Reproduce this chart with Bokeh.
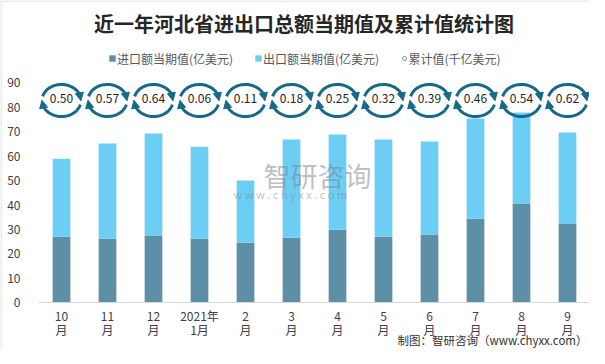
import numpy as np
from bokeh.plotting import figure
from bokeh.models import (Range1d, FixedTicker, Label, Legend, LegendItem, Arrow,
                          NormalHead, ColumnDataSource, Span)
from bokeh.core.properties import value
from bokeh.embed import file_html
from bokeh.resources import INLINE

# ---------------- data ----------------
months = ["10\n月", "11\n月", "12\n月", "2021年\n1月", "2\n月", "3\n月", "4\n月",
          "5\n月", "6\n月", "7\n月", "8\n月", "9\n月"]
imports = [27.0, 26.2, 27.5, 26.2, 24.6, 26.6, 29.9, 27.0, 27.9, 34.4, 40.6, 32.4]
exports = [31.9, 39.0, 41.8, 37.7, 25.4, 40.2, 39.0, 39.8, 38.1, 41.0, 37.3, 37.3]
cumulative = [0.50, 0.57, 0.64, 0.06, 0.11, 0.18, 0.25, 0.32, 0.39, 0.46, 0.54, 0.62]
y_ticks = [0, 10, 20, 30, 40, 50, 60, 70, 80, 90]

title_text = "近一年河北省进出口总额当期值及累计值统计图"
s_import = "进口额当期值(亿美元)"
s_export = "出口额当期值(亿美元)"
s_cum = "累计值(千亿美元)"
footer = "制图：智研咨询（www.chyxx.com）"

FONT = "Noto Sans CJK SC"
C_IMP = "#5D8FA6"
C_EXP = "#6CCEF4"
C_ARC = "#17698A"

# ---------------- layout (frame = whole canvas, axes at fixed locations) ----------------
W, H = 589, 348
PXC = 46.0          # pixels per category
PXV = 2.444         # pixels per value unit
X0 = 38.0           # pixel of x = -0.5
Y0 = 302.3          # pixel of y = 0


def dx(px):
    return (px - X0) / PXC - 0.5


def dy(py):
    return (Y0 - py) / PXV


p = figure(width=W, height=H, x_range=Range1d(dx(0), dx(W)), y_range=Range1d(dy(H), dy(0)),
           output_backend="svg", toolbar_location=None,
           min_border_left=0, min_border_right=0, min_border_top=0, min_border_bottom=0)
p.xgrid.visible = False
p.ygrid.visible = False
p.outline_line_color = None
p.background_fill_color = "white"
p.border_fill_color = "white"

# light outer border (left and top edges visible in the canvas)
p.add_layout(Span(location=dx(0.5), dimension="height", line_color="#D9D9D9", line_width=1))
p.add_layout(Span(location=dy(0.5), dimension="width", line_color="#D9D9D9", line_width=1))

x = list(range(len(months)))
src = ColumnDataSource(dict(x=x, imp=imports, exp=exports, cum=cumulative,
                            lbl=[f"{v:.2f}" for v in cumulative]))

bars = p.vbar_stack(["imp", "exp"], x="x", width=0.385, source=src,
                    color=[C_IMP, C_EXP], line_color=None)

# axes
xa = p.xaxis[0]
xa.fixed_location = 0
xa.bounds = (-0.5, 11.5)
xa.ticker = FixedTicker(ticks=x)
xa.major_label_overrides = {i: m for i, m in enumerate(months)}
xa.axis_line_color = "#D9D9D9"
xa.major_tick_line_color = None
xa.minor_tick_line_color = None
xa.major_label_text_font = FONT
xa.major_label_text_font_size = "12px"
xa.major_label_text_color = "#404040"
xa.major_label_text_line_height = 0.85
xa.major_label_standoff = -2

ya = p.yaxis[0]
ya.fixed_location = -0.5
ya.ticker = FixedTicker(ticks=y_ticks)
ya.axis_line_color = None
ya.major_tick_line_color = None
ya.minor_tick_line_color = None
ya.major_label_text_font = FONT
ya.major_label_text_font_size = "12px"
ya.major_label_text_color = "#404040"
ya.major_label_standoff = 12

# watermark
p.text(x=[dx(263)], y=[dy(175)], text=["智研咨询"],
       text_font=value(FONT), text_font_size="27px", text_color="#808080",
       text_alpha=0.5, text_baseline="middle", text_align="left")
p.text(x=[dx(233)], y=[dy(193)], text=["w w w . c h y x x . c o m"],
       text_font=value(FONT), text_font_size="11px", text_color="#808080",
       text_alpha=0.5, text_baseline="middle", text_align="left")

# cumulative series: circular arrows + labels
yc = dy(100)
rx = 19.5 / PXC
ry = 16.0 / PXV
xs, ys = [], []
ax0, ay0, ax1, ay1 = [], [], [], []
for i in x:
    for t0, t1, ts, te in [(165, 20, 20, -1), (345, 200, 200, 179)]:
        t = np.radians(np.linspace(t0, t1, 40))
        xs.append(list(i + rx * np.cos(t)))
        ys.append(list(yc + ry * np.sin(t)))
        ax0.append(i + rx * np.cos(np.radians(ts)))
        ay0.append(yc + ry * np.sin(np.radians(ts)))
        ax1.append(i + rx * np.cos(np.radians(te)))
        ay1.append(yc + ry * np.sin(np.radians(te)))
p.multi_line(xs=xs, ys=ys, line_color=C_ARC, line_width=3)
arr_src = ColumnDataSource(dict(x0=ax0, y0=ay0, x1=ax1, y1=ay1))
p.add_layout(Arrow(end=NormalHead(size=8, fill_color=C_ARC, line_color=C_ARC, line_width=1),
                   x_start="x0", y_start="y0", x_end="x1", y_end="y1", source=arr_src,
                   line_color=C_ARC, line_width=3))

cum_r = p.scatter(x="x", y=yc, source=src, size=0, marker="circle",
                  fill_color="white", line_color="#6A9AB5", line_width=1)
p.text(x="x", y=dy(98.3), text="lbl", source=src, text_font=value(FONT),
       text_font_size="12px", text_color="#262626", text_align="center",
       text_baseline="middle")


# legends
def add_leg(label, r, vx, gw, standoff):
    leg = Legend(items=[LegendItem(label=value(label), renderers=[r])],
                 location=(vx, H - 58 - 10), orientation="horizontal", padding=0, margin=0,
                 border_line_color=None, background_fill_alpha=0,
                 glyph_width=gw, glyph_height=gw, label_standoff=standoff,
                 label_height=20,
                 label_text_font=FONT, label_text_font_size="12px",
                 label_text_color="#595959")
    p.add_layout(leg)


add_leg(s_import, bars[0], 108, 8, 1)
add_leg(s_export, bars[1], 254, 8, 1)
add_leg(s_cum, cum_r, 398.5, 10, 0)

# title and footer
p.add_layout(Label(x=303.5, y=H - 23, x_units="screen", y_units="screen", text=title_text,
                   text_font=FONT, text_font_size="20px", text_font_style="bold",
                   text_color="#262626", text_align="center", text_baseline="middle"))
p.add_layout(Label(x=587, y=H - 339.5, x_units="screen", y_units="screen", text=footer,
                   text_font=FONT, text_font_size="11.5px", text_color="#333333",
                   text_align="right", text_baseline="middle"))

open("out.html", "w").write(file_html(p, INLINE))
